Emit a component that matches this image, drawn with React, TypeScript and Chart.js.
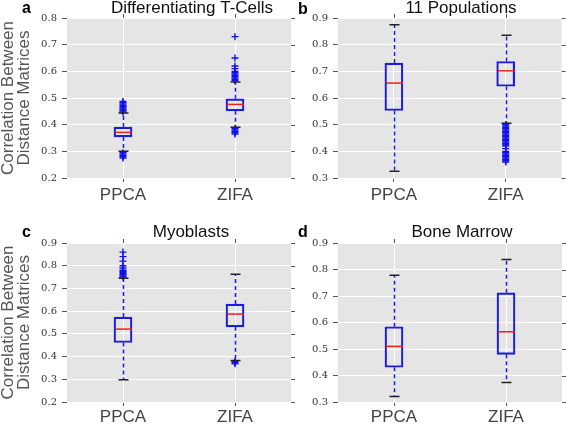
import React, { useEffect, useRef } from 'react';
import { Chart, registerables } from 'chart.js';

Chart.register(...registerables);

const categories = ['PPCA', 'ZIFA'];

// a: Differentiating T-Cells
const aTicks = [0.2, 0.3, 0.4, 0.5, 0.6, 0.7, 0.8];
const aQ1 = [0.354, 0.452];
const aMedian = [0.371, 0.476];
const aQ3 = [0.391, 0.497];
const aLow = [0.3, 0.39];
const aHigh = [0.444, 0.56];
const aOutPPCA = [0.447, 0.451, 0.455, 0.459, 0.463, 0.467, 0.472, 0.477, 0.482, 0.487, 0.295, 0.29, 0.285, 0.28, 0.275];
const aOutZIFA = [0.565, 0.57, 0.575, 0.58, 0.585, 0.59, 0.595, 0.6, 0.61, 0.62, 0.65, 0.73, 0.385, 0.38, 0.375, 0.37, 0.365];

// b: 11 Populations
const bTicks = [0.3, 0.4, 0.5, 0.6, 0.7, 0.8, 0.9];
const bQ1 = [0.553, 0.644];
const bMedian = [0.656, 0.702];
const bQ3 = [0.731, 0.737];
const bLow = [0.325, 0.505];
const bHigh = [0.875, 0.835];
const bOutPPCA: number[] = [];
const bOutZIFA = [0.5, 0.495, 0.49, 0.485, 0.48, 0.475, 0.47, 0.465, 0.46, 0.455, 0.45, 0.445, 0.44, 0.435, 0.43, 0.425, 0.42, 0.41, 0.4, 0.395, 0.39, 0.385, 0.38, 0.375, 0.37, 0.365, 0.36];

// c: Myoblasts
const cTicks = [0.2, 0.3, 0.4, 0.5, 0.6, 0.7, 0.8, 0.9];
const cQ1 = [0.462, 0.531];
const cMedian = [0.521, 0.587];
const cQ3 = [0.574, 0.631];
const cLow = [0.298, 0.383];
const cHigh = [0.745, 0.762];
const cOutPPCA = [0.75, 0.755, 0.76, 0.765, 0.77, 0.775, 0.78, 0.79, 0.8, 0.82, 0.84, 0.86];
const cOutZIFA = [0.378, 0.373, 0.368];

// d: Bone Marrow
const dTicks = [0.3, 0.4, 0.5, 0.6, 0.7, 0.8, 0.9];
const dQ1 = [0.431, 0.48];
const dMedian = [0.51, 0.565];
const dQ3 = [0.584, 0.712];
const dLow = [0.321, 0.374];
const dHigh = [0.778, 0.838];
const dOutPPCA: number[] = [];
const dOutZIFA: number[] = [];

const yTitleLines = ['Correlation Between', 'Distance Matrices'];

const BLUE = '#1c1ce0';
const RED = '#e8231f';
const BG = '#e5e5e5';

type PanelCfg = {
  letter: string;
  title: string;
  ticks: number[];
  q1: number[];
  med: number[];
  q3: number[];
  low: number[];
  high: number[];
  out: number[][];
  box: { left: number; top: number; w: number; h: number };
  padTop: number;
  padRight: number;
  yW: number;
  xH: number;
  xPad: number;
  titleX: number;
  titleY: number;
  letterX: number;
  letterY: number;
  yTitle: boolean;
};

const panels: PanelCfg[] = [
  {
    letter: 'a', title: 'Differentiating T-Cells', ticks: aTicks, q1: aQ1, med: aMedian, q3: aQ3, low: aLow, high: aHigh,
    out: [aOutPPCA, aOutZIFA], box: { left: 0, top: 0, w: 300, h: 210 }, padTop: 18, padRight: 9, yW: 67, xH: 32, xPad: 3,
    titleX: 192, titleY: 13, letterX: 22, letterY: 13, yTitle: true,
  },
  {
    letter: 'b', title: '11 Populations', ticks: bTicks, q1: bQ1, med: bMedian, q3: bQ3, low: bLow, high: bHigh,
    out: [bOutPPCA, bOutZIFA], box: { left: 296, top: 0, w: 271, h: 210 }, padTop: 18, padRight: 5, yW: 42, xH: 32, xPad: 3,
    titleX: 165, titleY: 13, letterX: 2, letterY: 14, yTitle: false,
  },
  {
    letter: 'c', title: 'Myoblasts', ticks: cTicks, q1: cQ1, med: cMedian, q3: cQ3, low: cLow, high: cHigh,
    out: [cOutPPCA, cOutZIFA], box: { left: 0, top: 215, w: 300, h: 210 }, padTop: 28, padRight: 9, yW: 67, xH: 23, xPad: 1,
    titleX: 191, titleY: 22, letterX: 22, letterY: 22, yTitle: true,
  },
  {
    letter: 'd', title: 'Bone Marrow', ticks: dTicks, q1: dQ1, med: dMedian, q3: dQ3, low: dLow, high: dHigh,
    out: [dOutPPCA, dOutZIFA], box: { left: 296, top: 215, w: 271, h: 210 }, padTop: 28, padRight: 5, yW: 42, xH: 23, xPad: 1,
    titleX: 166, titleY: 22, letterX: 2, letterY: 22, yTitle: false,
  },
];

function makePlugin(cfg: PanelCfg) {
  return {
    id: 'boxExtras' + cfg.letter,
    beforeDraw(chart: any) {
      const { ctx, chartArea: a } = chart;
      ctx.save();
      ctx.fillStyle = BG;
      ctx.fillRect(a.left, a.top, a.right - a.left, a.bottom - a.top);
      ctx.restore();
    },
    afterDatasetsDraw(chart: any) {
      const { ctx } = chart;
      const xs = chart.scales.x;
      const ys = chart.scales.y;
      ctx.save();
      categories.forEach((_, i) => {
        const x = Math.round(xs.getPixelForValue(i)) + 0.5;
        ctx.strokeStyle = BLUE;
        ctx.lineWidth = 1.5;
        ctx.setLineDash([4, 3]);
        ctx.beginPath();
        ctx.moveTo(x, ys.getPixelForValue(cfg.q3[i]));
        ctx.lineTo(x, ys.getPixelForValue(cfg.high[i]));
        ctx.moveTo(x, ys.getPixelForValue(cfg.q1[i]));
        ctx.lineTo(x, ys.getPixelForValue(cfg.low[i]));
        ctx.stroke();
        ctx.setLineDash([]);
        ctx.strokeStyle = '#222';
        ctx.lineWidth = 1.5;
        ctx.beginPath();
        [cfg.low[i], cfg.high[i]].forEach((v) => {
          const y = ys.getPixelForValue(v);
          ctx.moveTo(x - 5, y);
          ctx.lineTo(x + 5, y);
        });
        ctx.stroke();
        ctx.strokeStyle = RED;
        ctx.lineWidth = 1.5;
        ctx.beginPath();
        const ym = ys.getPixelForValue(cfg.med[i]);
        ctx.moveTo(x - 8.5, ym);
        ctx.lineTo(x + 8.5, ym);
        ctx.stroke();
      });
      ctx.restore();
    },
    afterDraw(chart: any) {
      const { ctx, chartArea: a } = chart;
      const xs = chart.scales.x;
      const ys = chart.scales.y;
      ctx.save();
      ctx.strokeStyle = '#555';
      ctx.lineWidth = 1;
      ctx.beginPath();
      cfg.ticks.forEach((v) => {
        const y = Math.round(ys.getPixelForValue(v)) + 0.5;
        ctx.moveTo(a.right, y);
        ctx.lineTo(a.right + 4, y);
      });
      categories.forEach((_, i) => {
        const x = Math.round(xs.getPixelForValue(i)) + 0.5;
        ctx.moveTo(x, a.top);
        ctx.lineTo(x, a.top - 4);
      });
      ctx.stroke();
      ctx.fillStyle = '#111';
      ctx.font = '17px "Liberation Sans", Arial, sans-serif';
      ctx.textAlign = 'center';
      ctx.textBaseline = 'alphabetic';
      ctx.fillText(cfg.title, cfg.titleX, cfg.titleY);
      ctx.fillStyle = '#000';
      ctx.font = 'bold 16px "Liberation Sans", Arial, sans-serif';
      ctx.textAlign = 'left';
      ctx.fillText(cfg.letter, cfg.letterX, cfg.letterY);
      ctx.restore();
    },
  };
}

function Panel({ cfg }: { cfg: PanelCfg }) {
  const ref = useRef<HTMLCanvasElement | null>(null);
  useEffect(() => {
    if (!ref.current) return;
    const chart = new Chart(ref.current, {
      type: 'bar',
      data: {
        labels: categories,
        datasets: [
          {
            type: 'bar',
            data: categories.map((_, i) => [cfg.q1[i], cfg.q3[i]]) as any,
            backgroundColor: 'rgba(0,0,0,0)',
            borderColor: BLUE,
            borderWidth: 1.5,
            borderSkipped: false,
            barThickness: 18,
          } as any,
          {
            type: 'scatter',
            data: categories.flatMap((c, i) => cfg.out[i].map((v) => ({ x: c, y: v }))) as any,
            pointStyle: 'cross',
            radius: 3.5,
            borderColor: '#1010e8',
            backgroundColor: '#1010e8',
            borderWidth: 1.4,
          } as any,
        ],
      },
      options: {
        responsive: false,
        animation: false,
        events: [],
        layout: { padding: { top: cfg.padTop, right: cfg.padRight, left: 0, bottom: 0 } },
        plugins: { legend: { display: false }, tooltip: { enabled: false }, title: { display: false } },
        scales: {
          x: {
            type: 'category',
            labels: categories,
            offset: true,
            grid: { offset: false, color: '#ffffff', lineWidth: 1, tickColor: '#555', tickLength: 4, drawTicks: true },
            border: { display: false },
            ticks: { font: { family: '"Liberation Sans", Arial, sans-serif', size: 17 }, color: '#444', padding: cfg.xPad, maxRotation: 0 },
            afterFit: (s: any) => { s.height = cfg.xH; },
          },
          y: {
            type: 'linear',
            min: cfg.ticks[0],
            max: cfg.ticks[cfg.ticks.length - 1],
            afterBuildTicks: (s: any) => { s.ticks = cfg.ticks.map((v) => ({ value: v })); },
            grid: { color: '#ffffff', lineWidth: 1, tickColor: '#555', tickLength: 5 },
            border: { display: false },
            ticks: {
              font: { family: '"DejaVu Serif", serif', size: 10 },
              color: '#333',
              padding: 5,
              callback: (v: any) => Number(v).toFixed(1),
            },
            title: {
              display: cfg.yTitle,
              text: yTitleLines,
              color: '#555',
              font: { family: '"Liberation Sans", Arial, sans-serif', size: 17, lineHeight: 0.95 },
              padding: 0,
            },
            afterFit: (s: any) => { s.width = cfg.yW; },
          },
        },
      } as any,
      plugins: [makePlugin(cfg)],
    });
    return () => chart.destroy();
  }, [cfg]);
  return (
    <canvas
      ref={ref}
      width={cfg.box.w}
      height={cfg.box.h}
      style={{ position: 'absolute', left: cfg.box.left, top: cfg.box.top, width: cfg.box.w, height: cfg.box.h }}
    />
  );
}

export default function App() {
  return (
    <div style={{ position: 'fixed', left: 0, top: 0, width: 567, height: 425, background: '#fff', overflow: 'hidden' }}>
      {panels.map((p) => (
        <Panel key={p.letter} cfg={p} />
      ))}
    </div>
  );
}
